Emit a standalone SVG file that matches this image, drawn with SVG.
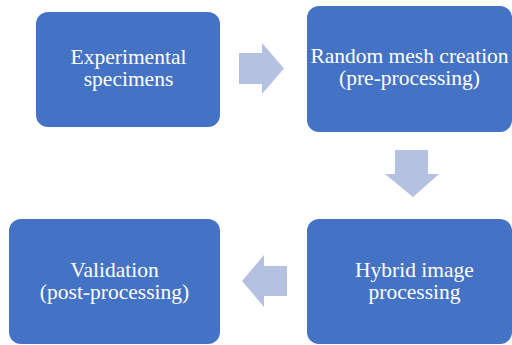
<svg xmlns="http://www.w3.org/2000/svg" width="512" height="345" viewBox="0 0 512 345">
  <style>
    .box { fill: #4472C4; }
    .lbl { fill: #FFFFFF; font-family: "Liberation Serif", "Times New Roman", Times, serif; font-size: 21.5px; text-anchor: middle; }
    .arrow { fill: #B4C1E1; }
  </style>
  <rect width="512" height="345" fill="#FFFFFF"/>

  <g id="node-experimental">
    <rect class="box" x="36" y="12" width="184" height="115" rx="12"/>
    <text class="lbl" x="128.5" y="64">Experimental</text>
    <text class="lbl" x="128.5" y="86">specimens</text>
  </g>

  <g id="node-mesh">
    <rect class="box" x="307" y="6" width="205" height="126" rx="12"/>
    <text class="lbl" x="409.5" y="63">Random mesh creation</text>
    <text class="lbl" x="409.5" y="85">(pre-processing)</text>
  </g>

  <g id="node-hybrid">
    <rect class="box" x="307" y="219" width="205" height="125" rx="12"/>
    <text class="lbl" x="414.5" y="277">Hybrid image</text>
    <text class="lbl" x="414.5" y="299">processing</text>
  </g>

  <g id="node-validation">
    <rect class="box" x="9" y="219" width="211" height="125" rx="12"/>
    <text class="lbl" x="114.5" y="277">Validation</text>
    <text class="lbl" x="114.5" y="299">(post-processing)</text>
  </g>

  <g id="connectors">
    <!-- right: specimens to mesh -->
    <polygon class="arrow" points="239,53 262,53 262,43 284,68.5 262,94 262,84 239,84"/>
    <!-- down: mesh to hybrid -->
    <polygon class="arrow" points="395,150 428,150 428,174 439,174 413,197 385,174 395,174"/>
    <!-- left: hybrid to validation -->
    <polygon class="arrow" points="287,266 264,266 264,255 242,281 264,307 264,296 287,296"/>
  </g>
</svg>
